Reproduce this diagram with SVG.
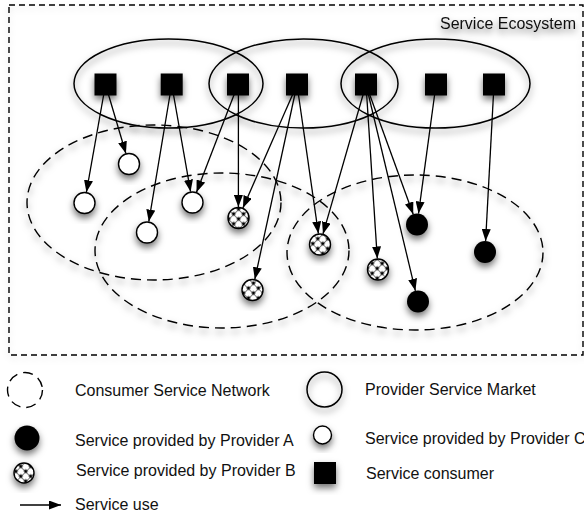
<svg xmlns="http://www.w3.org/2000/svg" width="584" height="521" viewBox="0 0 584 521">
  <style>
    .lbl { font-family: "Liberation Sans", Arial, Helvetica, sans-serif; font-size: 16px; fill: #111; }
    .market { fill: none; stroke: #000; stroke-width: 1.5; }
    .network { fill: none; stroke: #000; stroke-width: 1.4; stroke-dasharray: 10 6; }
    .consumer { fill: #000; }
    .svcA { fill: #000; }
    .svcB { fill: url(#hatch); stroke: #000; stroke-width: 1.4; }
    .svcC { fill: #fff; stroke: #000; stroke-width: 1.4; }
    .use { stroke: #000; stroke-width: 1.3; fill: none; marker-end: url(#head); }
    .sh { filter: url(#shadow); }
  </style>
  <defs>
    <filter id="shadow" x="-50%" y="-50%" width="200%" height="200%">
      <feDropShadow dx="0" dy="4" stdDeviation="3.5" flood-color="#000" flood-opacity="0.55"/>
    </filter>
    <filter id="softShadow" x="-10%" y="-10%" width="120%" height="120%">
      <feDropShadow dx="0" dy="3" stdDeviation="3" flood-color="#000" flood-opacity="0.15"/>
    </filter>
    <pattern id="hatch" width="7" height="7" patternUnits="userSpaceOnUse" patternTransform="translate(1,1) rotate(45)">
      <rect width="7" height="7" fill="#fff"/>
      <path d="M0,0 H7 M0,0 V7" stroke="#000" stroke-width="1"/>
      <rect x="-1.5" y="-1.5" width="3" height="3" fill="#000"/>
      <rect x="5.5" y="5.5" width="3" height="3" fill="#000"/>
      <rect x="5.5" y="-1.5" width="3" height="3" fill="#000"/>
      <rect x="-1.5" y="5.5" width="3" height="3" fill="#000"/>
    </pattern>
    <marker id="head" viewBox="0 0 12 9" refX="12" refY="4.5" markerWidth="12" markerHeight="9" markerUnits="userSpaceOnUse" orient="auto">
      <path d="M0,0 L12,4.5 L0,9 z" fill="#000"/>
    </marker>
  </defs>

  <rect width="584" height="521" fill="#fff"/>

  <!-- ecosystem boundary -->
  <g id="ecosystem">
    <rect x="9" y="5" width="574" height="350" fill="none" stroke="#000" stroke-width="1.4" stroke-dasharray="6 4" filter="url(#softShadow)"/>
    <text class="lbl sh" x="576" y="29" text-anchor="end">Service Ecosystem</text>
  </g>

  <!-- consumer service networks -->
  <g id="networks">
    <ellipse id="network-1" class="network sh" cx="154" cy="202.5" rx="127" ry="77.5"/>
    <ellipse id="network-2" class="network sh" cx="222" cy="250.5" rx="127" ry="77.5"/>
    <ellipse id="network-3" class="network sh" cx="415" cy="252.5" rx="128" ry="77.5"/>
  </g>

  <!-- provider service markets -->
  <g id="markets">
    <ellipse id="market-1" class="market sh" cx="168.5" cy="83.5" rx="94.5" ry="44.5"/>
    <ellipse id="market-2" class="market sh" cx="303.5" cy="83.5" rx="94.5" ry="44.5"/>
    <ellipse id="market-3" class="market sh" cx="435.5" cy="83.5" rx="94.5" ry="44.5"/>
  </g>

  <!-- service use connectors -->
  <g id="connectors">
    <line class="use" x1="105.5" y1="84.5" x2="86.4" y2="192.2"/>
    <line class="use" x1="105.5" y1="84.5" x2="125.9" y2="153.5"/>
    <line class="use" x1="171.7" y1="84.5" x2="148.8" y2="221.6"/>
    <line class="use" x1="171.7" y1="84.5" x2="190.6" y2="191.7"/>
    <line class="use" x1="238" y1="84.5" x2="196.5" y2="192.2"/>
    <line class="use" x1="238.4" y1="84.5" x2="238.4" y2="207"/>
    <line class="use" x1="297" y1="84.5" x2="242.9" y2="207.9"/>
    <line class="use" x1="297" y1="84.5" x2="254.8" y2="279.3"/>
    <line class="use" x1="297" y1="84.5" x2="318.4" y2="233.6"/>
    <line class="use" x1="366" y1="84.5" x2="323" y2="233.9"/>
    <line class="use" x1="366" y1="84.5" x2="377.3" y2="258.5"/>
    <line class="use" x1="366" y1="84.5" x2="413.2" y2="214.2"/>
    <line class="use" x1="366" y1="84.5" x2="415.4" y2="290.8"/>
    <line class="use" x1="436" y1="84.5" x2="418.5" y2="213.6"/>
    <line class="use" x1="494" y1="84.5" x2="485.6" y2="241"/>
  </g>

  <!-- service consumers -->
  <g id="consumer-1"><rect class="consumer sh" x="94.5" y="73.5" width="22" height="22"/></g>
  <g id="consumer-2"><rect class="consumer sh" x="160.7" y="73.5" width="22" height="22"/></g>
  <g id="consumer-3"><rect class="consumer sh" x="227" y="73.5" width="22" height="22"/></g>
  <g id="consumer-4"><rect class="consumer sh" x="286" y="73.5" width="22" height="22"/></g>
  <g id="consumer-5"><rect class="consumer sh" x="355" y="73.5" width="22" height="22"/></g>
  <g id="consumer-6"><rect class="consumer sh" x="425" y="73.5" width="22" height="22"/></g>
  <g id="consumer-7"><rect class="consumer sh" x="483" y="73.5" width="22" height="22"/></g>

  <!-- services of provider C -->
  <g id="serviceC-1"><circle class="svcC sh" cx="129" cy="164" r="10.5"/></g>
  <g id="serviceC-2"><circle class="svcC sh" cx="84.5" cy="203" r="10.5"/></g>
  <g id="serviceC-3"><circle class="svcC sh" cx="192.5" cy="202.5" r="10.5"/></g>
  <g id="serviceC-4"><circle class="svcC sh" cx="147" cy="232.5" r="10.5"/></g>

  <!-- services of provider B -->
  <g id="serviceB-1"><circle class="svcB sh" cx="238.5" cy="218" r="10.5"/></g>
  <g id="serviceB-2"><circle class="svcB sh" cx="252.5" cy="290" r="10.5"/></g>
  <g id="serviceB-3"><circle class="svcB sh" cx="320" cy="244.5" r="10.5"/></g>
  <g id="serviceB-4"><circle class="svcB sh" cx="378" cy="269.5" r="10.5"/></g>

  <!-- services of provider A -->
  <g id="serviceA-1"><circle class="svcA sh" cx="417" cy="224.5" r="11"/></g>
  <g id="serviceA-2"><circle class="svcA sh" cx="485" cy="252" r="11"/></g>
  <g id="serviceA-3"><circle class="svcA sh" cx="418" cy="301.5" r="11"/></g>

  <!-- legend -->
  <g id="legend">
    <circle class="network" cx="25" cy="390" r="17.5" stroke-dasharray="9 6"/>
    <text class="lbl" x="75" y="396">Consumer Service Network</text>

    <circle class="market sh" cx="324.5" cy="389.5" r="17.5"/>
    <text class="lbl" x="365" y="395">Provider Service Market</text>

    <circle class="svcA sh" cx="27" cy="438" r="12.5"/>
    <text class="lbl" x="75" y="446">Service provided by Provider A</text>

    <circle class="svcC sh" cx="322.5" cy="435" r="9"/>
    <text class="lbl" x="365" y="444">Service provided by Provider C</text>

    <circle class="svcB sh" cx="24" cy="473" r="10"/>
    <text class="lbl" x="76" y="476">Service provided by Provider B</text>

    <rect class="consumer sh" x="314" y="462" width="22" height="22"/>
    <text class="lbl" x="366" y="479">Service consumer</text>

    <line class="use" x1="20" y1="505" x2="61" y2="505"/>
    <text class="lbl" x="75" y="510">Service use</text>
  </g>
</svg>
